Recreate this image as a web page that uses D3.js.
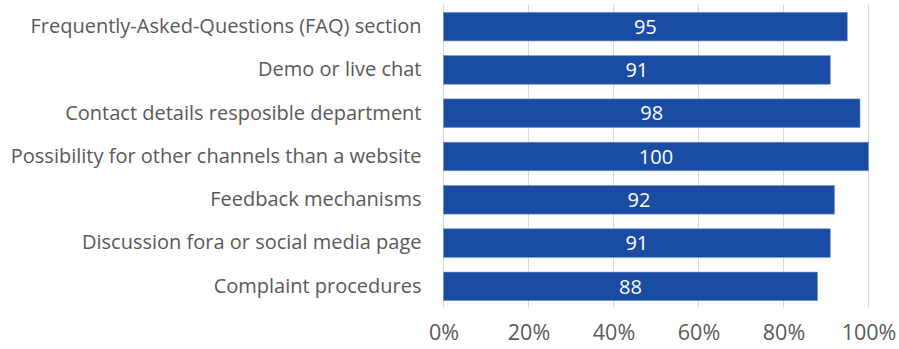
<!DOCTYPE html>
<html>
<head>
<meta charset="utf-8">
<script src="https://cdn.jsdelivr.net/npm/d3@7"></script>
<style>
  html, body { margin: 0; padding: 0; background: #fff; }
  svg { display: block; }
  text { font-family: "Open Sans", "Noto Sans", sans-serif; }
</style>
</head>
<body>
<svg id="chart" width="899" height="349"></svg>
<script>
// Share of sites offering each support feature (%)
const categories = [
  "Frequently-Asked-Questions (FAQ) section",
  "Demo or live chat",
  "Contact details resposible department",
  "Possibility for other channels than a website",
  "Feedback mechanisms",
  "Discussion fora or social media page",
  "Complaint procedures"
];
const values = [95, 91, 98, 100, 92, 91, 88];
const tickValues = [0, 20, 40, 60, 80, 100];

const svg = d3.select("#chart");
const margin = { top: 5, left: 443.5, right: 30.5, bottom: 41 };
const width = 899 - margin.left - margin.right;
const height = 349 - margin.top - margin.bottom;

const x = d3.scaleLinear().domain([0, 100]).range([0, width]);
const y = d3.scaleBand().domain(categories).range([0, height]).paddingInner(0.34).paddingOuter(0.17);

const g = svg.append("g").attr("transform", `translate(${margin.left},${margin.top})`);

// vertical gridlines
g.append("g")
  .selectAll("line")
  .data(tickValues)
  .join("line")
  .attr("x1", d => x(d)).attr("x2", d => x(d))
  .attr("y1", 0).attr("y2", height)
  .attr("stroke", "#d9d9d9").attr("stroke-width", 1);

// bars
g.append("g")
  .selectAll("rect")
  .data(values)
  .join("rect")
  .attr("x", 0)
  .attr("y", (d, i) => y(categories[i]))
  .attr("width", d => x(d))
  .attr("height", y.bandwidth())
  .attr("fill", "#1a4ca3")
  .attr("stroke", "#6f8fd0")
  .attr("stroke-width", 0.6);

// value labels
g.append("g")
  .selectAll("text")
  .data(values)
  .join("text")
  .attr("x", d => x(d) / 2)
  .attr("y", (d, i) => y(categories[i]) + y.bandwidth() / 2)
  .attr("dy", "0.36em")
  .attr("text-anchor", "middle")
  .attr("fill", "#ffffff")
  .attr("font-size", 20)
  .text(d => d);

// category axis
const yAxis = g.append("g").call(d3.axisLeft(y).tickSize(0).tickPadding(22));
yAxis.select(".domain").remove();
yAxis.selectAll("text")
  .attr("fill", "#595959")
  .attr("font-size", 20)
  .style("font-family", "\"Open Sans\", sans-serif");

// value axis
const xAxis = g.append("g")
  .attr("transform", `translate(0,${height})`)
  .call(d3.axisBottom(x).tickValues(tickValues).tickFormat(d => d + "%").tickSize(0).tickPadding(17));
xAxis.select(".domain").remove();
xAxis.selectAll("text")
  .attr("fill", "#595959")
  .attr("font-size", 21.5)
  .style("font-family", "\"Open Sans\", sans-serif");
</script>
</body>
</html>
